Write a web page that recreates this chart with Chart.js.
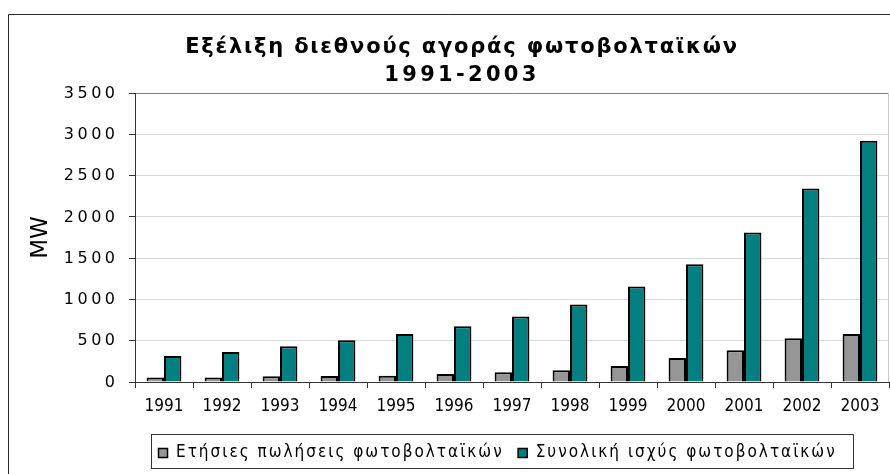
<!DOCTYPE html>
<html>
<head>
<meta charset="utf-8">
<script src="https://cdn.jsdelivr.net/npm/chart.js@4/dist/chart.umd.min.js"></script>
<style>
html,body{margin:0;padding:0;background:#fff;}
#wrap{width:890px;height:474px;position:relative;}
</style>
</head>
<body>
<div id="wrap"><canvas id="c" width="890" height="474"></canvas></div>
<script>
const years = ['1991','1992','1993','1994','1995','1996','1997','1998','1999','2000','2001','2002','2003'];
const annualSales = [53, 55, 70, 72, 75, 97, 117, 141, 193, 290, 386, 531, 580];
const totalCapacity = [314, 362, 434, 507, 580, 676, 793, 938, 1156, 1425, 1812, 2343, 2923];
const yTicks = [0, 500, 1000, 1500, 2000, 2500, 3000, 3500];
const seriesNames = ['Ετήσιες πωλήσεις φωτοβολταϊκών', 'Συνολική ισχύς φωτοβολταϊκών'];
const titleLines = ['Εξέλιξη διεθνούς αγοράς φωτοβολταϊκών', '1991-2003'];
const yAxisTitle = 'MW';

const decor = {
  id: 'decor',
  beforeDatasetsDraw(chart) {
    const ctx = chart.ctx, ca = chart.chartArea;
    ctx.save();
    ctx.strokeStyle = '#c8c8c8';
    ctx.lineWidth = 1;
    ctx.beginPath();
    ctx.moveTo(ca.right - 0.5, ca.top);
    ctx.lineTo(ca.right - 0.5, ca.bottom);
    ctx.stroke();
    ctx.restore();
  },
  afterDraw(chart) {
    const ctx = chart.ctx, ys = chart.scales.y;
    ctx.save();
    // outer chart border
    ctx.strokeStyle = '#2a2a2a';
    ctx.lineWidth = 1;
    ctx.beginPath();
    ctx.moveTo(8.5, 474);
    ctx.lineTo(8.5, 14.5);
    ctx.lineTo(890, 14.5);
    ctx.stroke();

    // title
    ctx.fillStyle = '#000';
    ctx.textAlign = 'center';
    ctx.textBaseline = 'alphabetic';
    ctx.font = 'bold 21px "DejaVu Sans"';
    ctx.letterSpacing = '1.8px';
    ctx.fillText(titleLines[0], 462, 53);
    ctx.letterSpacing = '3.3px';
    ctx.fillText(titleLines[1], 462, 81);

    // y tick labels
    ctx.font = '16px "DejaVu Sans"';
    ctx.letterSpacing = '3.5px';
    ctx.textAlign = 'right';
    ctx.textBaseline = 'middle';
    yTicks.forEach(v => ctx.fillText(String(v), 118.5, ys.getPixelForValue(v) + 0.5));

    // legend
    ctx.strokeStyle = '#333';
    ctx.lineWidth = 1;
    ctx.strokeRect(151.5, 434.5, 702, 34);
    ctx.font = '17px "DejaVu Sans Condensed"';
    ctx.letterSpacing = '2px';
    ctx.textAlign = 'left';
    ctx.textBaseline = 'middle';
    let x = 158;
    const cy = 453;
    chart.data.datasets.forEach(ds => {
      ctx.fillStyle = ds.backgroundColor;
      ctx.fillRect(x, cy - 5, 10, 10);
      ctx.strokeStyle = '#000';
      ctx.lineWidth = 1.5;
      ctx.strokeRect(x + 0.5, cy - 4.5, 9, 9);
      ctx.fillStyle = '#000';
      const tx = x + 18;
      ctx.fillText(ds.label, tx, cy);
      x = tx + ctx.measureText(ds.label).width + 14;
    });
    ctx.letterSpacing = '0px';
    ctx.restore();
  }
};

new Chart(document.getElementById('c'), {
  type: 'bar',
  data: {
    labels: years,
    datasets: [
      { label: seriesNames[0], data: annualSales, backgroundColor: '#969696', borderColor: '#000', borderWidth: 2 },
      { label: seriesNames[1], data: totalCapacity, backgroundColor: '#008080', borderColor: '#000', borderWidth: 2 }
    ]
  },
  options: {
    responsive: false,
    animation: false,
    devicePixelRatio: 1,
    layout: { padding: { left: 8, top: 93, right: 1, bottom: 0 } },
    datasets: { bar: { categoryPercentage: 0.6, barPercentage: 1.0 } },
    plugins: { legend: { display: false }, tooltip: { enabled: false }, title: { display: false } },
    scales: {
      x: {
        afterFit(s) { s.height = 92; },
        grid: { display: true, drawOnChartArea: false, drawTicks: true, tickLength: 6, tickColor: '#333', offset: true },
        border: { display: true, color: '#333', width: 1 },
        ticks: { color: '#000', padding: 8, font: { family: 'DejaVu Sans Condensed', size: 17 } }
      },
      y: {
        min: 0,
        max: 3500,
        afterFit(s) { s.width = 127; },
        afterBuildTicks(s) { s.ticks = yTicks.map(v => ({ value: v })); },
        grid: {
          color: c => (c.tick && c.tick.value === 3500) ? '#808080' : '#d9d9d9',
          tickColor: '#333',
          tickLength: 6,
          drawTicks: true
        },
        border: { display: true, color: '#333', width: 1 },
        ticks: { display: false },
        title: {
          display: true,
          text: yAxisTitle,
          color: '#000',
          font: { family: 'DejaVu Sans', size: 23 },
          padding: { top: 19.5, bottom: 0 }
        }
      }
    }
  },
  plugins: [decor]
});
</script>
</body>
</html>
